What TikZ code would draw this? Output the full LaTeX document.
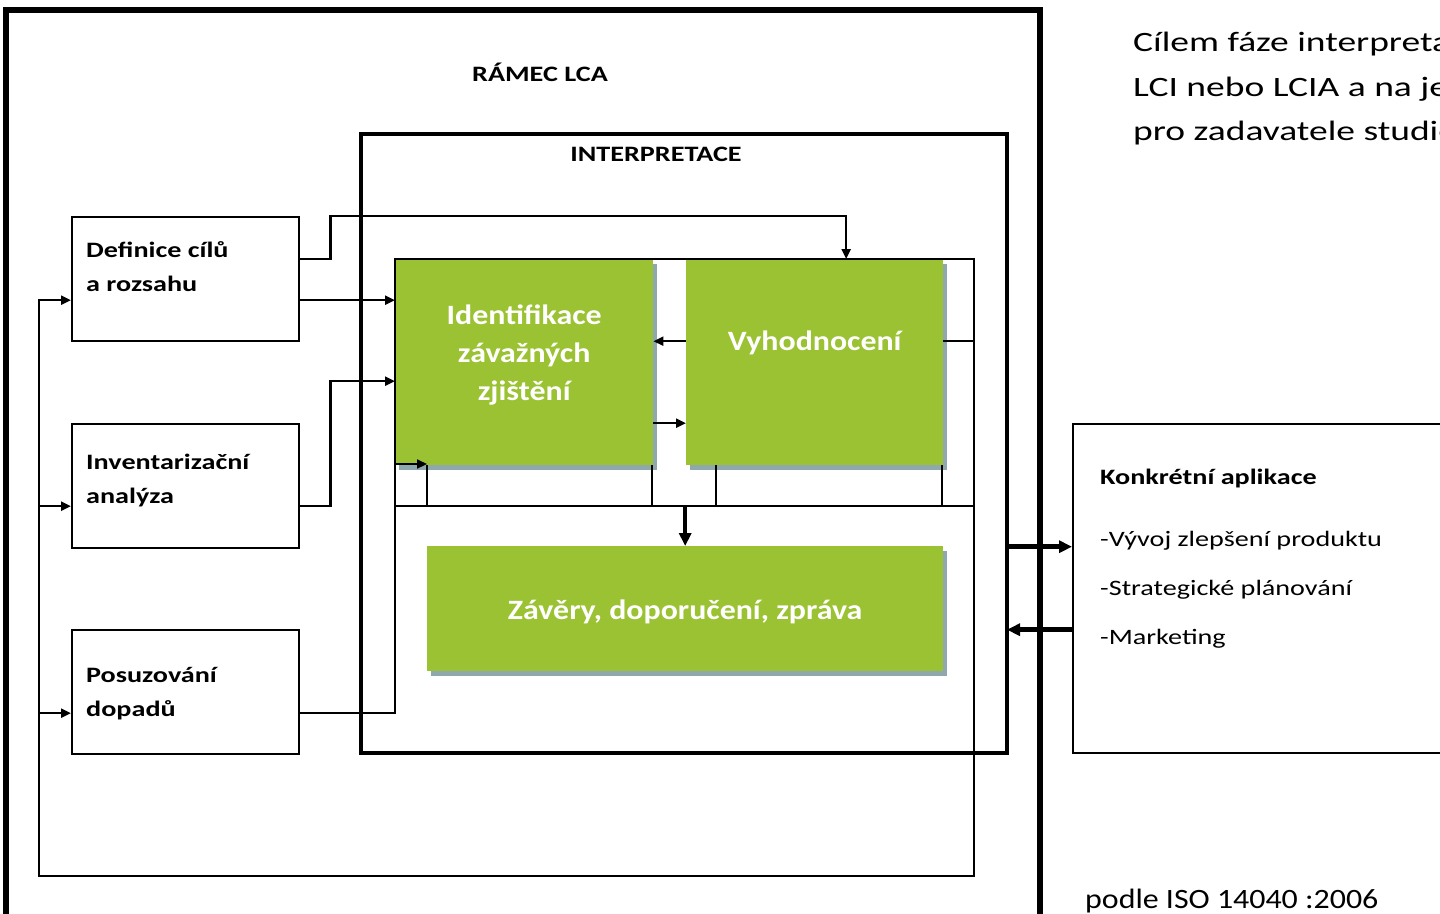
\documentclass[tikz,border=0pt]{standalone}
\usepackage{fontspec}
\setmainfont{Carlito}
\newfontfamily\wideface{Carlito}[FakeStretch=1.28]
\newfontfamily\midface{Carlito}[FakeStretch=1.14]
\newfontfamily\sideface{Carlito}[FakeStretch=1.34]
\usetikzlibrary{arrows.meta,shadows}
\definecolor{leafgreen}{RGB}{154,194,50}
\definecolor{shadowgrey}{RGB}{143,168,174}

\begin{document}
\begin{tikzpicture}[x=1pt,y=-1pt,
  phase/.style={draw,line width=2.4pt,minimum width=227pt,minimum height=124pt,
    inner sep=0pt,anchor=north west},
  phasetext/.style={inner sep=0pt,anchor=base west,align=left,
    font=\wideface\bfseries\fontsize{22}{34}\selectfont},
  stagebox/.style={fill=leafgreen,inner sep=0pt,anchor=north west,
    drop shadow={shadow xshift=4pt,shadow yshift=-5pt,fill=shadowgrey,opacity=1}},
  stagetext/.style={text=white,inner sep=0pt,align=center,
    font=\midface\bfseries\fontsize{28}{38}\selectfont},
  heading/.style={inner sep=0pt,font=\wideface\bfseries\fontsize{22}{26}\selectfont},
  plain/.style={inner sep=0pt,anchor=base west,font=\wideface\fontsize{22}{26}\selectfont},
  bigtext/.style={inner sep=0pt,anchor=base west,font=\sideface\fontsize{28}{34}\selectfont},
  link/.style={line width=2.2pt},
  arr/.style={link,-{Triangle[length=10pt,width=9pt]}},
  boldarr/.style={line width=4.5pt,-{Triangle[length=13pt,width=12pt]}},
]
\useasboundingbox (0,0) rectangle (1440,913);
\begin{scope}
\clip (0,0) rectangle (1440,913);

% outer LCA frame (its lower edge runs off the page)
\draw[line width=5.5pt] (6,10) rectangle (1040,960);
\node[heading] (ramec) at (540,72) {RÁMEC LCA};

% interpretation frame
\node[draw,line width=4pt,inner sep=0pt,outer sep=0pt,anchor=north west,
  minimum width=646pt,minimum height=619pt] (interp) at (361,134) {};
\node[heading] (interpt) at (656,154) {INTERPRETACE};

% the three LCA phases (text anchored on the baseline of its last line)
\node[phase] (def) at (71,216) {};
\node[phase] (inv) at (71,423) {};
\node[phase] (pos) at (71,629) {};
\node[phasetext] (deft) at (86,291) {Definice cílů\\a rozsahu};
\node[phasetext] (invt) at (86,503) {Inventarizační\\analýza};
\node[phasetext] (post) at (86,716) {Posuzování\\dopadů};

% green interpretation steps
\node[stagebox,minimum width=258pt,minimum height=206pt] (ident) at (395,259) {};
\node[stagebox,minimum width=257pt,minimum height=206pt] (vyh) at (686,259) {};
\node[stagebox,minimum width=516pt,minimum height=125pt] (zav) at (427,546) {};
\node[stagetext] (identt) at ([yshift=7pt]ident.center) {Identifikace\\závažných\\zjištění};
\node[stagetext] (vyht) at ([yshift=19pt]vyh.center) {Vyhodnocení};
\node[stagetext] (zavt) at ([yshift=-3pt]zav.center) {Závěry, doporučení, zpráva};

% thin outline around the upper steps and leftover edges
\coordinate (boxse) at (974,506);
\draw[link] (ident.north west) rectangle (boxse);
\draw[link] (427,465) -- (427,506) -- (652,506) -- (652,465);
\draw[link] (716,465) -- (716,506);
\draw[link] (942,465) -- (942,506);

% application box
\node[draw,line width=2.4pt,inner sep=0pt,anchor=north west,
  minimum width=420pt,minimum height=329pt] (app) at (1072,423) {};
\node[plain,font=\wideface\bfseries\fontsize{22}{26}\selectfont] (appt) at (1100,484) {Konkrétní aplikace};
\node[plain] (app1) at (1100,546) {-Vývoj zlepšení produktu};
\node[plain] (app2) at (1100,595) {-Strategické plánování};
\node[plain] (app3) at (1100,644) {-Marketing};

% side text
\node[bigtext] (goal1) at (1133,51) {Cílem fáze interpretace};
\node[bigtext] (goal2) at (1133,96) {LCI nebo LCIA a na jejich};
\node[bigtext] (goal3) at (1133,140) {pro zadavatele studie};
\node[bigtext,font=\midface\fontsize{28}{34}\selectfont] (src) at (1085,908) {podle ISO 14040 :2006};

% connectors from the phases
\coordinate (dA) at ([yshift=20pt]def.east);
\coordinate (dB) at ([yshift=-21pt]def.east);
\coordinate (iA) at ([yshift=-20pt]inv.east);
\coordinate (pA) at ([yshift=-21pt]pos.east);
\coordinate (vIn) at ([xshift=31.5pt]vyh.north);
\draw[arr] (dA) -- ++(30,0) |- ([yshift=43pt]vIn) -- (vIn);
\draw[arr] (dB) -- (dB -| ident.west);
\coordinate (identIn) at ([yshift=-19pt]ident.west);
\draw[arr] (iA) -- ++(30,0) |- (identIn);
\coordinate (low) at (427,464);
\draw[arr] (pA) -| (ident.west |- low) -- (low);

% steps among themselves
\coordinate (vA) at ([yshift=21pt]vyh.west);
\coordinate (iB) at ([yshift=-61pt]ident.east);
\draw[arr] (vA) -- (vA -| ident.east);
\draw[arr] (iB) -- (iB -| vyh.west);
\draw[boldarr] (zav.north |- boxse) -- (zav.north);

% feedback loop to the phases
\coordinate (loopR) at (974,876);
\coordinate (loopL) at (39,876);
\coordinate (vB) at ([yshift=21pt]vyh.east);
\coordinate (defIn) at ([yshift=-21pt]def.west);
\coordinate (invIn) at ([yshift=-20pt]inv.west);
\coordinate (posIn) at ([yshift=-21pt]pos.west);
\draw[arr] (vB) -| (loopR) -- (loopL) |- (defIn);
\draw[arr] (loopL |- invIn) -- (invIn);
\draw[arr] (loopL |- posIn) -- (posIn);

% exchange with applications
\coordinate (outA) at ([yshift=42pt]app.west);
\coordinate (outB) at ([yshift=-41pt]app.west);
\draw[boldarr] (outA -| interp.east) -- (outA);
\draw[boldarr] (outB) -- (outB -| interp.east);
\end{scope}
\end{tikzpicture}
\end{document}
